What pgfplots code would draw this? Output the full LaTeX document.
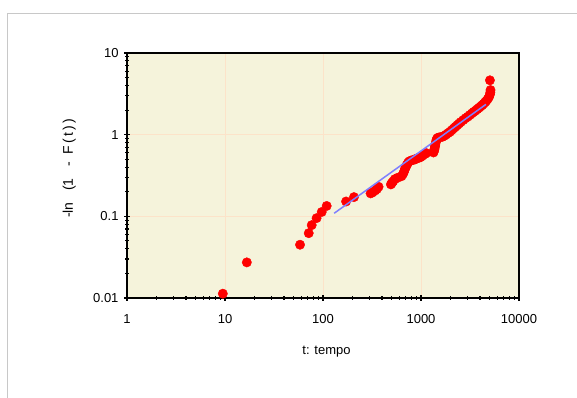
\documentclass[border=0pt]{standalone}
\usepackage{pgfplots}
\pgfplotsset{compat=1.18}
\usepackage{fontspec}
\setmainfont{Liberation Sans}
\definecolor{plotbg}{HTML}{F5F3DB}
\definecolor{gridc}{HTML}{FCE3C9}
\definecolor{dotc}{HTML}{FF0000}
\definecolor{linec}{HTML}{7F7FFF}
\definecolor{framec}{HTML}{C8C8C8}
\begin{document}
\begin{tikzpicture}[x=1pt,y=1pt]
\useasboundingbox (0,0) rectangle (577,398);
\fill[white] (0,0) rectangle (577,398);
\draw[framec, line width=1.5pt] (7.5,-10) -- (7.5,384.5) -- (600,384.5);
\begin{axis}[
  at={(127pt,100pt)}, anchor=south west,
  scale only axis, width=392pt, height=245pt,
  xmode=log, ymode=log,
  xmin=1, xmax=10000, ymin=0.01, ymax=10,
  axis background/.style={fill=plotbg},
  axis line style={black, line width=1.3pt},
  xtick={1,10,100,1000,10000},
  xticklabels={1,10,100,1000,10000},
  ytick={0.01,0.1,1,10},
  yticklabels={0.01,0.1,1,10},
  minor xtick={2,3,4,5,6,7,8,9,20,30,40,50,60,70,80,90,200,300,400,500,600,700,800,900,2000,3000,4000,5000,6000,7000,8000,9000},
  minor ytick={0.02,0.03,0.04,0.05,0.06,0.07,0.08,0.09,0.2,0.3,0.4,0.5,0.6,0.7,0.8,0.9,2,3,4,5,6,7,8,9},
  tick pos=left,
  tick align=center,
  major tick length=6pt,
  minor tick length=4pt,
  every tick/.style={black, line width=1.1pt},
  xmajorgrids, ymajorgrids,
  major grid style={gridc, line width=1pt},
  /pgf/number format/assume math mode=true,
  tick label style={font=\fontsize{13}{15}\selectfont},
  xticklabel style={yshift=-10pt},
  yticklabel style={xshift=-2pt},
  xlabel={t: tempo},
  ylabel={-ln\ \ \ (1\ \ \ -\ \ F\,(\,t\,)\,)},
  xlabel style={font=\fontsize{13}{15}\selectfont, at={(axis description cs:0.509,-0.22)}, anchor=center},
  ylabel style={font=\fontsize{14}{16}\selectfont, at={(axis description cs:-0.147,0.53)}, anchor=center},
  clip marker paths=true,
]
\addplot[only marks, mark=*, mark size=4.7pt, color=dotc, mark options={draw=dotc, fill=dotc}] table {
x y
9.5 0.0113
16.7 0.0273
58.3 0.0449
71.5 0.0622
76.7 0.0780
86 0.095
97 0.113
109 0.134
172 0.152
207 0.172
306 0.191
320 0.196
341 0.207
355 0.216
369 0.230
493 0.246
505 0.257
520 0.268
540 0.285
575 0.296
633 0.310
655 0.330
670 0.350
684 0.378
700 0.400
715 0.425
735 0.450
757 0.470
790 0.482
832 0.490
870 0.498
900 0.510
950 0.520
988 0.530
1020 0.545
1052 0.565
1100 0.580
1130 0.595
1340 0.605
1360 0.635
1375 0.670
1385 0.710
1400 0.750
1420 0.810
1438 0.860
1460 0.900
1500 0.920
1560 0.930
1650 0.940
1720 0.965
1800 1.00
1880 1.04
1970 1.08
2050 1.13
2150 1.19
2250 1.25
2350 1.31
2450 1.37
2550 1.43
2700 1.51
2850 1.59
3000 1.66
3150 1.74
3300 1.82
3450 1.90
3600 1.97
3750 2.05
3900 2.13
4050 2.21
4200 2.29
4350 2.39
4500 2.49
4650 2.60
4800 2.74
4950 2.90
5050 3.10
5100 3.30
5120 3.52
5050 4.63
};
\addplot[linec, line width=1.5pt] coordinates {(130,0.109) (4600,2.35)};
\end{axis}
\end{tikzpicture}
\end{document}
